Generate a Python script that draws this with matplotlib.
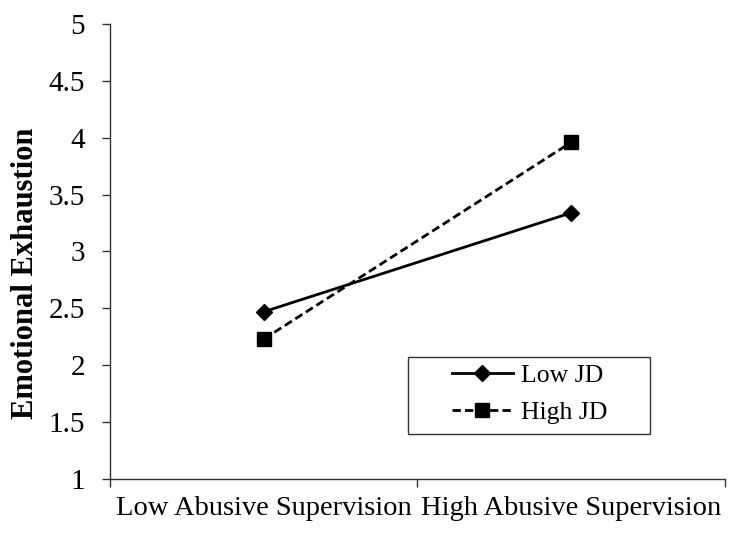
import matplotlib
matplotlib.use("Agg")
from matplotlib import pyplot as plt
from matplotlib.patches import Rectangle

categories = ['Low Abusive Supervision', 'High Abusive Supervision']
low_jd = [2.47, 3.34]
high_jd = [2.23, 3.96]
y_ticks = [1, 1.5, 2, 2.5, 3, 3.5, 4, 4.5, 5]

plt.rcParams['font.family'] = ['Liberation Serif', 'DejaVu Serif']

fig = plt.figure(figsize=(7.4, 5.38), dpi=100)
# axes box: x 110..725 px, y 24..479 px
ax = fig.add_axes([0.1486, 0.1097, 0.8311, 0.8457])

xpos = [i + 0.5 for i in range(len(categories))]
ax.plot(xpos, low_jd, color='black', linewidth=2, marker='D', markersize=8, label='Low JD')
ax.plot(xpos, high_jd, color='black', linewidth=2, linestyle=(0, (3, 1.5)),
        marker='s', markersize=10, label='High JD')

ax.set_xlim(0, len(categories))
ax.set_ylim(1, 5)
ax.set_yticks(y_ticks)
ax.set_yticklabels(['%g' % v for v in y_ticks])
ax.set_xticks([0, 1, 2])
ax.set_xticklabels([])
ax.set_xticks(xpos, minor=True)
ax.set_xticklabels(categories, minor=True)
ax.tick_params(axis='x', which='minor', length=0, pad=12, labelsize=20.5)
ax.tick_params(axis='x', which='major', length=6, width=1, direction='out', color='#333333')
ax.tick_params(axis='y', length=6, width=1, direction='out', labelsize=21, pad=12,
               color='#333333')

for s in ['top', 'right']:
    ax.spines[s].set_visible(False)
for s in ['left', 'bottom']:
    ax.spines[s].set_linewidth(1)
    ax.spines[s].set_color('#333333')

ax.set_ylabel('Emotional Exhaustion', fontsize=22, fontweight='bold')
ax.yaxis.set_label_coords(-0.114, 0.453)

# legend box
ax.add_patch(Rectangle((0.4846, 0.099), 0.3935, 0.169, transform=ax.transAxes,
                       fill=False, edgecolor='#333333', linewidth=1, clip_on=False))
leg = ax.legend(loc='upper left', bbox_to_anchor=(0.556, 0.252), fontsize=18.5,
                frameon=False, borderpad=0, borderaxespad=0,
                handlelength=2.37, labelspacing=0.52, handletextpad=0.3)

fig.savefig('out.png', dpi=100)
